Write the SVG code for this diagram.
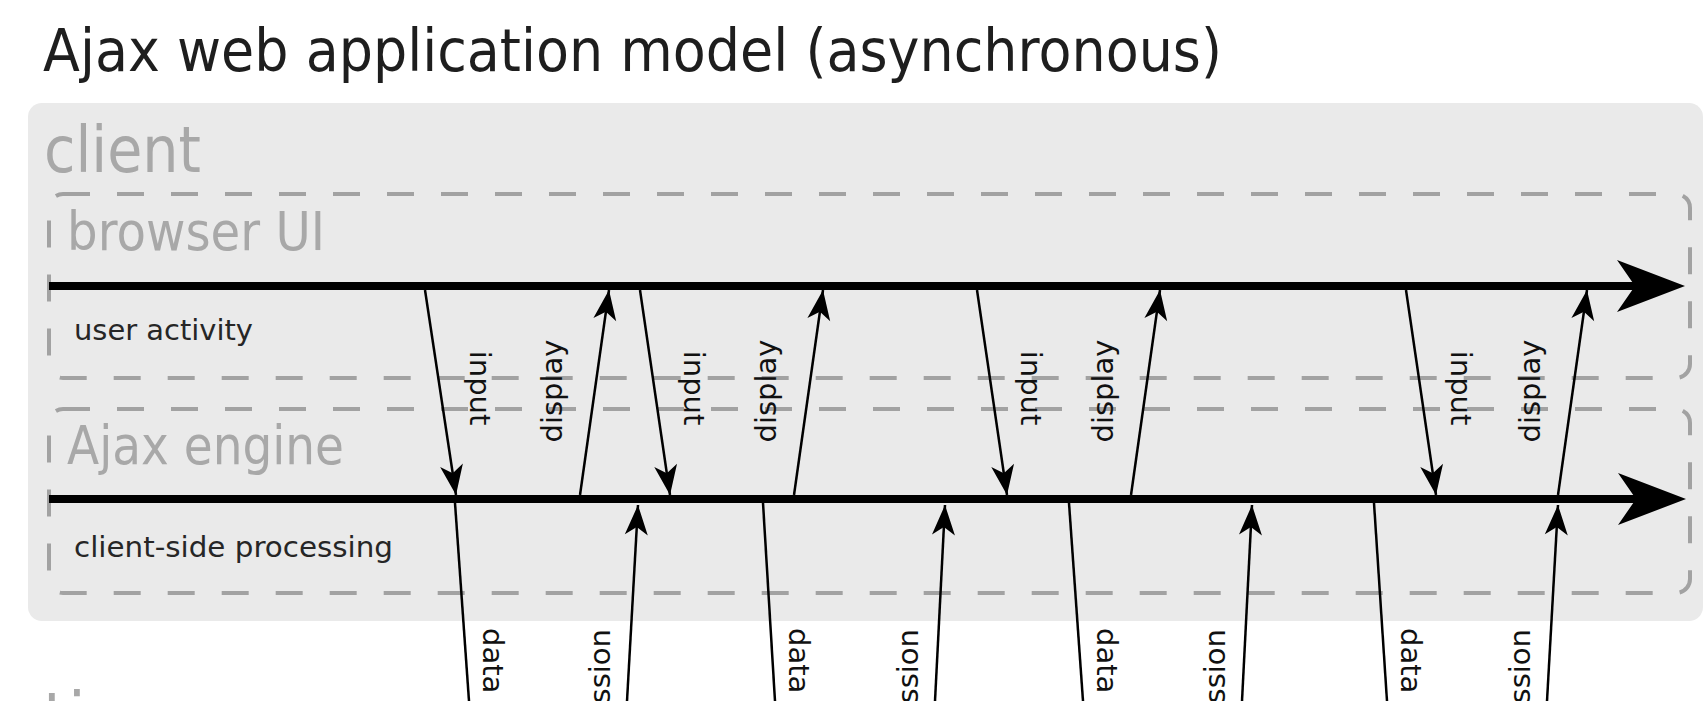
<svg xmlns="http://www.w3.org/2000/svg" width="1705" height="701" viewBox="0 0 1705 701">
<style>
.title{font-family:"DejaVu Sans","Liberation Sans",sans-serif;font-size:58px;fill:#1e1e1e}
.big{font-family:"DejaVu Sans","Liberation Sans",sans-serif;fill:#a8a8a8}
.small{font-family:"DejaVu Sans","Liberation Sans",sans-serif;font-size:29px;fill:#262626}
.lbl{font-family:"DejaVu Sans","Liberation Sans",sans-serif;font-size:29px;fill:#111}
.lane{fill:none;stroke:#a2a2a2;stroke-width:4;stroke-dasharray:27 27}
.tl{stroke:#000;stroke-width:8;fill:none}
.ar{stroke:#000;stroke-width:2.5;fill:none}
</style>
<defs>
<marker id="big" markerUnits="userSpaceOnUse" viewBox="-70 -27 72 54" refX="-20" refY="0" markerWidth="72" markerHeight="54" orient="auto">
<path d="M0,0 L-68,-26 L-50,0 L-68,26 Z" fill="#000"/>
</marker>
<marker id="sm" markerUnits="userSpaceOnUse" viewBox="-32 -13 34 26" refX="0" refY="0" markerWidth="34" markerHeight="26" orient="auto">
<path d="M0,0 L-30,-11.5 L-22,0 L-30,11.5 Z" fill="#000"/>
</marker>
</defs>
<rect width="1705" height="701" fill="#fff"/>
<text class="title" x="43" y="71" textLength="1179" lengthAdjust="spacingAndGlyphs">Ajax web application model (asynchronous)</text>

<g id="client">
<rect x="28" y="103" width="1675" height="518" rx="14" fill="#eaeaea"/>
<text class="big" x="44" y="172" font-size="64" textLength="157" lengthAdjust="spacingAndGlyphs">client</text>
</g>
<g id="browser-ui">
<rect class="lane" x="49" y="194" width="1641" height="184" rx="14"/>
<text class="big" x="67" y="250" font-size="54" textLength="258" lengthAdjust="spacingAndGlyphs">browser UI</text>
<text class="small" x="74" y="340" textLength="179" lengthAdjust="spacingAndGlyphs">user activity</text>
</g>
<g id="ajax-engine">
<rect class="lane" x="49" y="409" width="1641" height="184" rx="14"/>
<text class="big" x="67" y="464" font-size="54" textLength="277" lengthAdjust="spacingAndGlyphs">Ajax engine</text>
<text class="small" x="74" y="557" textLength="319" lengthAdjust="spacingAndGlyphs">client-side processing</text>
</g>
<g id="time">
<text class="big" x="43" y="738" font-size="64">time</text>
</g>

<g id="connectors">
<line class="tl" x1="49" y1="286" x2="1665" y2="286" marker-end="url(#big)"/>
<line class="tl" x1="49" y1="499" x2="1666" y2="499" marker-end="url(#big)"/>

<line class="ar" x1="425" y1="290" x2="456" y2="495" marker-end="url(#sm)"/>
<line class="ar" x1="640" y1="290" x2="670" y2="495" marker-end="url(#sm)"/>
<line class="ar" x1="977" y1="290" x2="1007" y2="495" marker-end="url(#sm)"/>
<line class="ar" x1="1406" y1="290" x2="1436" y2="495" marker-end="url(#sm)"/>

<line class="ar" x1="580" y1="495" x2="609" y2="290" marker-end="url(#sm)"/>
<line class="ar" x1="794" y1="495" x2="823" y2="290" marker-end="url(#sm)"/>
<line class="ar" x1="1131" y1="495" x2="1160" y2="290" marker-end="url(#sm)"/>
<line class="ar" x1="1558" y1="495" x2="1587" y2="290" marker-end="url(#sm)"/>

<line class="ar" x1="455" y1="503" x2="469" y2="701"/>
<line class="ar" x1="763" y1="503" x2="775" y2="701"/>
<line class="ar" x1="1069" y1="503" x2="1083" y2="701"/>
<line class="ar" x1="1374" y1="503" x2="1387" y2="701"/>

<line class="ar" x1="627" y1="701" x2="638" y2="505" marker-end="url(#sm)"/>
<line class="ar" x1="935" y1="701" x2="945" y2="505" marker-end="url(#sm)"/>
<line class="ar" x1="1242" y1="701" x2="1252" y2="505" marker-end="url(#sm)"/>
<line class="ar" x1="1547" y1="701" x2="1558" y2="505" marker-end="url(#sm)"/>

<text class="lbl" text-anchor="middle" transform="translate(470,388) rotate(90)">input</text>
<text class="lbl" text-anchor="middle" transform="translate(684,388) rotate(90)">input</text>
<text class="lbl" text-anchor="middle" transform="translate(1021,388) rotate(90)">input</text>
<text class="lbl" text-anchor="middle" transform="translate(1451,388) rotate(90)">input</text>

<text class="lbl" text-anchor="middle" transform="translate(562,391) rotate(-90)">display</text>
<text class="lbl" text-anchor="middle" transform="translate(776,391) rotate(-90)">display</text>
<text class="lbl" text-anchor="middle" transform="translate(1113,391) rotate(-90)">display</text>
<text class="lbl" text-anchor="middle" transform="translate(1540,391) rotate(-90)">display</text>

<text class="lbl" transform="translate(483,628) rotate(90)">data</text>
<text class="lbl" transform="translate(789,628) rotate(90)">data</text>
<text class="lbl" transform="translate(1097,628) rotate(90)">data</text>
<text class="lbl" transform="translate(1401,628) rotate(90)">data</text>

<text class="lbl" text-anchor="end" transform="translate(610,629) rotate(-90)">ssion</text>
<text class="lbl" text-anchor="end" transform="translate(918,629) rotate(-90)">ssion</text>
<text class="lbl" text-anchor="end" transform="translate(1225,629) rotate(-90)">ssion</text>
<text class="lbl" text-anchor="end" transform="translate(1530,629) rotate(-90)">ssion</text>
</g>
</svg>
